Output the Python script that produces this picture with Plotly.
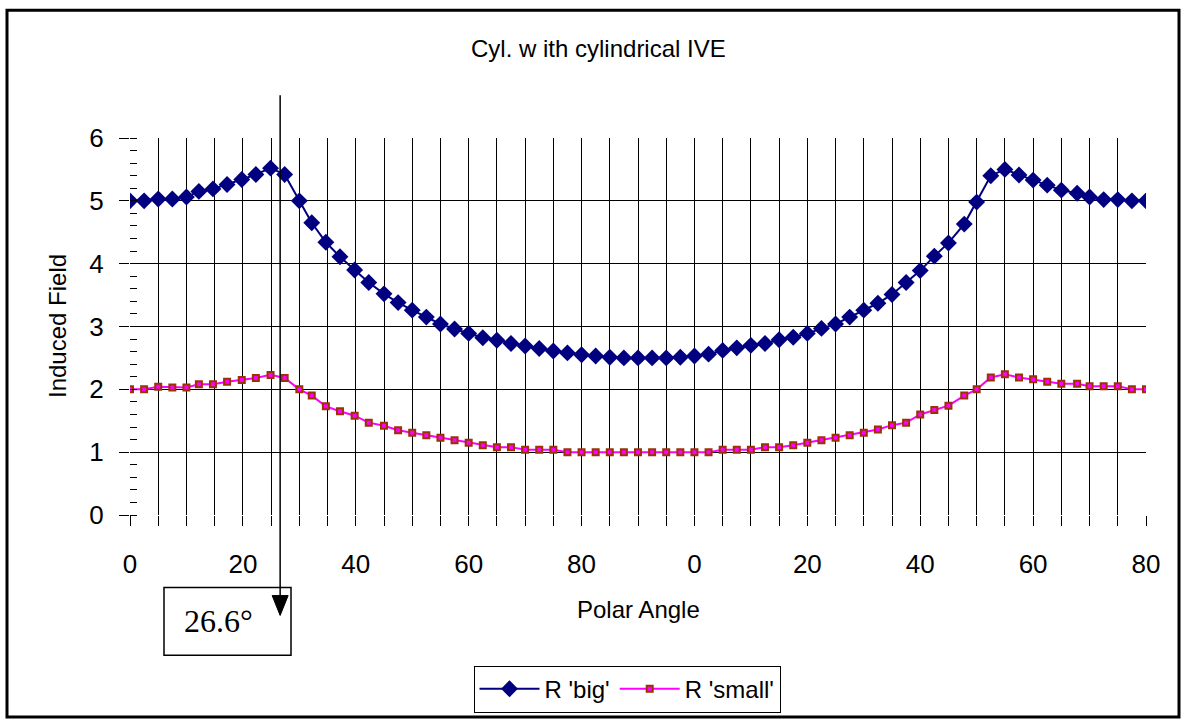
import plotly.graph_objects as go

# Polar angle of each sample point (degrees, 0..180 across the cylinder)
ANGLES = [
    0.0, 2.5, 5.0, 7.5, 10.0, 12.2, 14.7, 17.2, 19.8, 22.3, 24.9, 27.4, 30.0,
    32.2, 34.7, 37.2, 39.8, 42.3, 45.0, 47.5, 50.0,
    52.5, 55.0, 57.5, 60.0, 62.5, 65.0, 67.5, 70.0, 72.5, 75.0, 77.5, 80.0,
    82.5, 85.0, 87.5, 90.0, 92.5, 95.0, 97.5,
    100.0, 102.5, 105.0, 107.5, 110.0, 112.5, 115.0, 117.5, 120.0, 122.5,
    125.0, 127.5, 130.0,
    132.5, 135.0, 137.5, 140.0, 142.5, 145.0,
    147.8, 150.0, 152.5, 155.0, 157.5, 160.0, 162.5, 165.0, 167.8, 170.0,
    172.5, 175.0, 177.5, 180.0,
]

# Induced field for the big radius
R_BIG = [
    5.00, 5.00, 5.03, 5.03, 5.06, 5.15, 5.19, 5.26, 5.34, 5.42, 5.52, 5.42, 5.00,
    4.65, 4.34, 4.11, 3.90, 3.70, 3.52, 3.38, 3.26,
    3.15, 3.04, 2.96, 2.89, 2.82, 2.78, 2.73, 2.69, 2.65, 2.61, 2.58, 2.55,
    2.53, 2.51, 2.50, 2.50, 2.50, 2.50, 2.51,
    2.53, 2.56, 2.62, 2.66, 2.70, 2.73, 2.79, 2.83, 2.89, 2.97, 3.04, 3.15, 3.26,
    3.37, 3.51, 3.70, 3.89, 4.12, 4.33,
    4.63, 4.98, 5.40, 5.50, 5.41, 5.33, 5.25, 5.17, 5.12, 5.06, 5.02, 5.02,
    5.00, 5.00,
]

# Induced field for the small radius
R_SMALL = [
    2.00, 2.00, 2.04, 2.03, 2.03, 2.08, 2.08, 2.12, 2.15, 2.18, 2.23, 2.18, 2.00,
    1.90, 1.73, 1.65, 1.58, 1.47, 1.42, 1.35, 1.31,
    1.27, 1.23, 1.19, 1.15, 1.11, 1.08, 1.08, 1.04, 1.04, 1.04, 1.00, 1.00,
    1.00, 1.00, 1.00, 1.00, 1.00, 1.00, 1.00,
    1.00, 1.00, 1.04, 1.04, 1.04, 1.08, 1.08, 1.11, 1.15, 1.19, 1.23, 1.27, 1.31,
    1.36, 1.43, 1.47, 1.60, 1.67, 1.74,
    1.90, 2.00, 2.19, 2.24, 2.19, 2.16, 2.12, 2.09, 2.09, 2.05, 2.05, 2.05,
    2.00, 2.00,
]

X_TICK_VALUES = [0, 20, 40, 60, 80, 100, 120, 140, 160, 180]
X_TICK_LABELS = ["0", "20", "40", "60", "80", "0", "20", "40", "60", "80"]
X_RANGE = [0, 180]
Y_RANGE = [0, 6]

MARKED_ANGLE = 26.6
MARKED_LABEL = "26.6°"

SANS = "Liberation Sans, Arial, sans-serif"
SERIF = "Liberation Serif, Times New Roman, serif"

# Figure geometry in pixels
W, H = 1183, 724
ML, MR, MT, MB = 130, 37, 138, 207
PW = W - ML - MR
PH = H - MT - MB


def px_x(px):
    return (px - ML) / PW


def px_y(py):
    return (H - MB - py) / PH


def angle_to_paper(a):
    return (a - X_RANGE[0]) / (X_RANGE[1] - X_RANGE[0])


fig = go.Figure()

fig.add_trace(go.Scatter(
    x=ANGLES, y=R_BIG, name="R 'big'", mode="lines+markers",
    line=dict(color="#000080", width=2),
    marker=dict(symbol="diamond", size=13, color="#000080",
                line=dict(width=0)),
))
fig.add_trace(go.Scatter(
    x=ANGLES, y=R_SMALL, name="R 'small'", mode="lines+markers",
    line=dict(color="#FF00FF", width=2),
    marker=dict(symbol="square", size=6, color="#FF00FF",
                line=dict(color="#993300", width=2)),
))

fig.update_xaxes(
    range=X_RANGE, tickmode="array", tickvals=X_TICK_VALUES,
    ticktext=X_TICK_LABELS, ticks="outside", ticklen=10, tickcolor="black",
    tickwidth=1, showgrid=True, gridcolor="black", gridwidth=1,
    zeroline=False, showline=False, ticklabelstandoff=16,
    tickfont=dict(family=SANS, size=26, color="black"),
    minor=dict(tickmode="linear", tick0=0, dtick=5, ticks="outside",
               ticklen=10, tickcolor="black", tickwidth=1,
               showgrid=True, gridcolor="black", gridwidth=1),
)
fig.update_yaxes(
    range=Y_RANGE, tickmode="linear", tick0=0, dtick=1,
    ticks="outside", ticklen=10, tickcolor="black", tickwidth=1,
    showgrid=True, gridcolor="black", gridwidth=1,
    zeroline=False, showline=False, ticklabelstandoff=10,
    tickfont=dict(family=SANS, size=26, color="black"),
    minor=dict(tickmode="linear", tick0=0, dtick=0.2, ticks="inside",
               ticklen=7, tickcolor="black", tickwidth=1, showgrid=False),
)

ax = angle_to_paper(MARKED_ANGLE)
head_half = 8 / PW

shapes = [
    # outer chart frame
    dict(type="rect", xref="paper", yref="paper",
         x0=px_x(7), x1=px_x(1179), y0=px_y(720), y1=px_y(9.5),
         line=dict(color="black", width=3), layer="below"),
    # box around the angle label
    dict(type="rect", xref="paper", yref="paper",
         x0=px_x(164), x1=px_x(291), y0=px_y(658), y1=px_y(590),
         line=dict(color="black", width=1.5), fillcolor="white"),
    # vertical arrow shaft
    dict(type="line", xref="paper", yref="paper",
         x0=ax, x1=ax, y0=px_y(95), y1=px_y(600),
         line=dict(color="black", width=1.5)),
    # arrow head
    dict(type="path", xref="paper", yref="paper",
         path=f"M {ax - head_half},{px_y(598)} L {ax + head_half},{px_y(598)} "
              f"L {ax},{px_y(618)} Z",
         fillcolor="black", line=dict(color="black", width=1)),
]

annotations = [
    dict(text="Cyl. w ith cylindrical IVE", xref="paper", yref="paper",
         x=px_x(598), y=px_y(48), showarrow=False,
         xanchor="center", yanchor="middle",
         font=dict(family=SANS, size=24, color="black")),
    dict(text="Polar Angle", xref="paper", yref="paper",
         x=px_x(638), y=px_y(612), showarrow=False,
         xanchor="center", yanchor="middle",
         font=dict(family=SANS, size=24, color="black")),
    dict(text="Induced Field", xref="paper", yref="paper",
         x=px_x(57), y=px_y(327), showarrow=False, textangle=-90,
         xanchor="center", yanchor="middle",
         font=dict(family=SANS, size=24, color="black")),
    dict(text=MARKED_LABEL, xref="paper", yref="paper",
         x=px_x(218), y=px_y(624), showarrow=False,
         xanchor="center", yanchor="middle",
         font=dict(family=SERIF, size=32, color="black")),
]

fig.update_layout(
    width=W, height=H,
    margin=dict(l=ML, r=MR, t=MT, b=MB, pad=0),
    paper_bgcolor="white", plot_bgcolor="white",
    showlegend=True,
    legend=dict(
        orientation="h", x=px_x(627), y=px_y(692),
        xanchor="center", yanchor="middle",
        bordercolor="black", borderwidth=1, bgcolor="white",
        font=dict(family=SANS, size=24, color="black"),
        itemwidth=60, tracegroupgap=0,
    ),
    shapes=shapes,
    annotations=annotations,
)

fig.write_html("out.html")
